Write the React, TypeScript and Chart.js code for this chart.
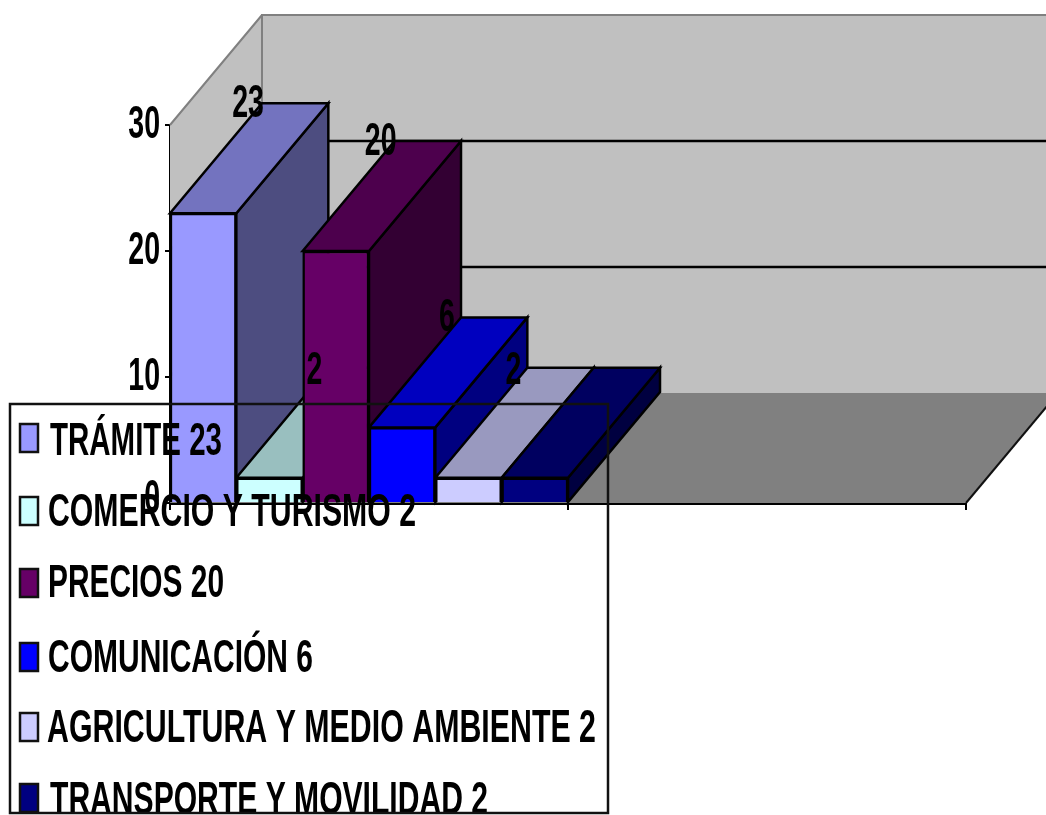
import React, { useEffect, useRef } from "react";
import { Chart, registerables } from "chart.js";

Chart.register(...registerables);

const categories = ["", ""];
const seriesNames = ["TRÁMITE", "COMERCIO Y TURISMO", "PRECIOS", "COMUNICACIÓN", "AGRICULTURA Y MEDIO AMBIENTE", "TRANSPORTE Y MOVILIDAD"];
const seriesValues = [23, 2, 20, 6, 2, 2];
const yTicks = [0, 10, 20, 30];

const frontColors = ["#9999FF", "#CCFFFF", "#660066", "#0000FF", "#CCCCFF", "#000080"];
const topColors = ["#7373BF", "#99BFBF", "#4D004D", "#0000BF", "#9999BF", "#000060"];
const sideColors = ["#4D4D80", "#668080", "#330033", "#000080", "#666680", "#000040"];

const DX = 92;
const DY = -110;
const FONT = 'bold 46px "Liberation Sans", Arial, sans-serif';

const legendLeft = [50, 48, 48, 48, 47, 50];
const legendRight = [222, 416, 224, 313, 596, 488];
const legendTextY = [440, 511, 582.5, 657.5, 727.5, 799.5];
const legendSwatchY = [438, 511, 583, 657, 727, 798];

function squeezed(ctx: CanvasRenderingContext2D, text: string, x: number, y: number, sx: number, align: CanvasTextAlign = "left") {
  ctx.save();
  ctx.font = FONT;
  ctx.fillStyle = "#000";
  ctx.textAlign = align;
  ctx.textBaseline = "middle";
  ctx.translate(x, y);
  ctx.scale(sx, 1);
  ctx.fillText(text, 0, 0);
  ctx.restore();
}

function poly(ctx: CanvasRenderingContext2D, pts: number[][], fill: string | null, stroke: string | null, lw = 1) {
  ctx.beginPath();
  pts.forEach((p, i) => (i ? ctx.lineTo(p[0], p[1]) : ctx.moveTo(p[0], p[1])));
  ctx.closePath();
  if (fill) {
    ctx.fillStyle = fill;
    ctx.fill();
  }
  if (stroke) {
    ctx.strokeStyle = stroke;
    ctx.lineWidth = lw;
    ctx.stroke();
  }
}

const depthPlugin = {
  id: "depth",
  beforeDatasetsDraw(chart: any) {
    const ctx: CanvasRenderingContext2D = chart.ctx;
    const { left, right, top, bottom } = chart.chartArea;
    const yScale = chart.scales.y;
    ctx.save();
    poly(ctx, [[left + DX, top + DY], [right + DX, top + DY], [right + DX, bottom + DY], [left + DX, bottom + DY]], "#C0C0C0", null);
    poly(ctx, [[left, top], [left + DX, top + DY], [left + DX, bottom + DY], [left, bottom]], "#C0C0C0", null);
    poly(ctx, [[left, bottom], [left + DX, bottom + DY], [right + DX, bottom + DY], [right, bottom]], "#808080", null);
    ctx.strokeStyle = "#808080";
    ctx.lineWidth = 2;
    ctx.beginPath();
    ctx.moveTo(left + DX, bottom + DY);
    ctx.lineTo(left + DX, top + DY);
    ctx.lineTo(right + DX, top + DY);
    ctx.moveTo(left, top);
    ctx.lineTo(left + DX, top + DY);
    ctx.stroke();
    ctx.strokeStyle = "#000";
    ctx.lineWidth = 2.5;
    yTicks.filter((v) => v > 0 && v < 30).forEach((v) => {
      const y = yScale.getPixelForValue(v);
      ctx.beginPath();
      ctx.moveTo(left, y);
      ctx.lineTo(left + DX, y + DY);
      ctx.lineTo(right + DX, y + DY);
      ctx.stroke();
    });
    ctx.strokeStyle = "#111";
    ctx.lineWidth = 2;
    ctx.beginPath();
    ctx.moveTo(right, bottom);
    ctx.lineTo(right + DX, bottom + DY);
    ctx.stroke();
    seriesValues.forEach((_, i) => {
      const b = chart.getDatasetMeta(i).data[0];
      const l = b.x - b.width / 2;
      const r = b.x + b.width / 2;
      poly(ctx, [[r, b.y], [r + DX, b.y + DY], [r + DX, b.base + DY], [r, b.base]], sideColors[i], "#000", 2.5);
      poly(ctx, [[l, b.y], [l + DX, b.y + DY], [r + DX, b.y + DY], [r, b.y]], topColors[i], "#000", 2.5);
    });
    ctx.restore();
  },
  afterDatasetsDraw(chart: any) {
    const ctx: CanvasRenderingContext2D = chart.ctx;
    const yScale = chart.scales.y;
    // value labels; the last series' label does not show in the picture
    seriesValues.slice(0, 5).forEach((v, i) => {
      const b = chart.getDatasetMeta(i).data[0];
      squeezed(ctx, String(v), b.x - b.width / 2 + DX - 14, b.y + DY + (v === 2 ? 4 : 1), 0.62, "center");
    });
    yTicks.forEach((v) => {
      const y = yScale.getPixelForValue(v) + (v === 0 ? -4 : 0);
      squeezed(ctx, String(v), 160, y, 0.62, "right");
    });
    ctx.save();
    ctx.beginPath();
    ctx.rect(10, 403, 598, 410);
    ctx.clip();
    seriesNames.forEach((name, i) => {
      const sy = legendSwatchY[i];
      ctx.fillStyle = frontColors[i];
      ctx.strokeStyle = "#111";
      ctx.lineWidth = 2.5;
      ctx.fillRect(20, sy - 14, 18, 28);
      ctx.strokeRect(20, sy - 14, 18, 28);
      const text = `${name} ${seriesValues[i]}`;
      ctx.font = FONT;
      const sx = (legendRight[i] - legendLeft[i]) / ctx.measureText(text).width;
      squeezed(ctx, text, legendLeft[i], legendTextY[i] + 2, sx);
    });
    ctx.restore();
    ctx.save();
    ctx.strokeStyle = "#111";
    ctx.lineWidth = 2.5;
    ctx.strokeRect(10, 404, 598, 409);
    ctx.restore();
  },
};

export default function App() {
  const ref = useRef<HTMLCanvasElement>(null);
  useEffect(() => {
    document.body.style.background = "#fff";
    const chart = new Chart(ref.current!, {
      type: "bar",
      data: {
        labels: categories,
        datasets: seriesNames.map((name, i) => ({
          label: name,
          data: [seriesValues[i], null],
          backgroundColor: frontColors[i],
          borderColor: "#000",
          borderWidth: 2.5,
          barPercentage: 1,
          categoryPercentage: 1,
        })),
      },
      options: {
        animation: false,
        responsive: false,
        layout: { padding: { left: 170, right: 80, top: 125, bottom: 312 } },
        plugins: { legend: { display: false }, tooltip: { enabled: false } },
        scales: {
          x: {
            afterFit: (s: any) => { s.height = 0; },
            ticks: { display: false },
            border: { color: "#000", width: 3 },
            grid: { drawOnChartArea: false, color: "#000", tickLength: 7, lineWidth: 2 },
          },
          y: {
            min: 0,
            max: 30,
            afterFit: (s: any) => { s.width = 0; },
            ticks: { display: false, stepSize: 10 },
            border: { color: "#000", width: 3 },
            grid: { drawOnChartArea: false, color: "#000", tickLength: 5, lineWidth: 2 },
          },
        },
      },
      plugins: [depthPlugin],
    } as any);
    return () => chart.destroy();
  }, []);
  return (
    <canvas
      ref={ref}
      width={1046}
      height={815}
      style={{ position: "fixed", left: 0, top: 0, width: 1046, height: 815, filter: "blur(0.6px)" }}
    />
  );
}
